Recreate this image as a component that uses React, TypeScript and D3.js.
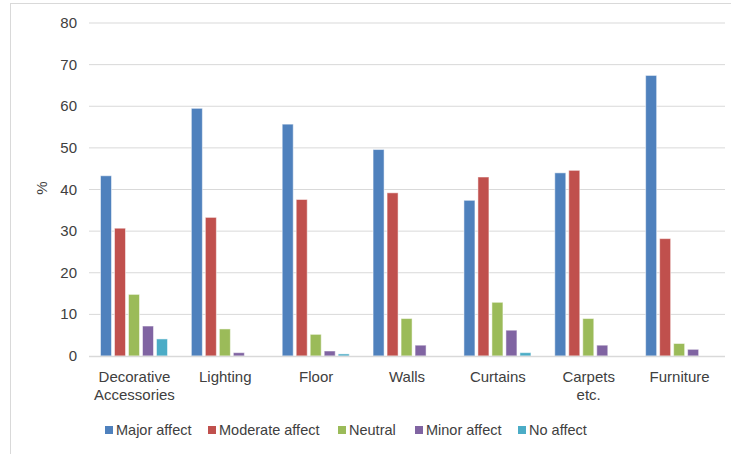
import React from "react";
import * as d3 from "d3";

const categories = [["Decorative", "Accessories"], ["Lighting"], ["Floor"], ["Walls"], ["Curtains"], ["Carpets", "etc."], ["Furniture"]];
const seriesNames = ["Major affect", "Moderate affect", "Neutral", "Minor affect", "No affect"];
const colors = ["#4F81BD", "#C0504D", "#9BBB59", "#8064A2", "#4BACC6"];
const major = [43.3, 59.5, 55.7, 49.6, 37.4, 44.0, 67.4];
const moderate = [30.7, 33.3, 37.6, 39.2, 43.0, 44.6, 28.2];
const neutral = [14.8, 6.5, 5.2, 9.0, 12.9, 9.0, 3.0];
const minor = [7.2, 0.8, 1.2, 2.6, 6.2, 2.6, 1.6];
const noAffect = [4.1, 0, 0.5, 0, 0.8, 0, 0];
const yTicks = [0, 10, 20, 30, 40, 50, 60, 70, 80];

const series = [major, moderate, neutral, minor, noAffect];

export default function App() {
  const W = 731, H = 454;
  const left = 89, right = 725, top = 23, bottom = 356;
  const x = d3.scaleBand<number>().domain(d3.range(categories.length)).range([left, right]).paddingInner(0).paddingOuter(0);
  const y = d3.scaleLinear().domain([0, 80]).range([bottom, top]);
  const bw = x.bandwidth();
  const step = 14;
  const barW = 11;
  const offset = 11.5;
  const font = "Liberation Sans, Arial, sans-serif";
  const legendX = [105, 208, 338, 415, 518];
  return (
    <svg width={W} height={H} style={{ position: "absolute", left: 0, top: 0 }} fontFamily={font}>
      <rect x={0} y={0} width={W} height={H} fill="#fff" />
      <rect x={10.5} y={3.5} width={730} height={460} fill="none" stroke="#D9D9D9" />
      {yTicks.map((t) => (
        <g key={t}>
          {t > 0 && <line x1={left} x2={right} y1={y(t)} y2={y(t)} stroke="#D9D9D9" strokeWidth={1} />}
          <text x={77} y={y(t) + 5} textAnchor="end" fontSize={15} fill="#404040">{t}</text>
        </g>
      ))}
      <text transform={`translate(47,188) rotate(-90)`} textAnchor="middle" fontSize={15} fill="#404040">%</text>
      {series.map((vals, si) =>
        vals.map((v, ci) => (
          v > 0 ? (
            <rect key={`${si}-${ci}`} x={(x(ci) as number) + offset + si * step} y={y(v)} width={barW} height={bottom - y(v)} fill={colors[si]} stroke="#fff" strokeOpacity={0.5} strokeWidth={1} />
          ) : null
        ))
      )}
      <line x1={left} x2={right} y1={bottom + 0.5} y2={bottom + 0.5} stroke="#D9D9D9" strokeWidth={1.5} />
      {categories.map((lines, ci) => (
        <text key={ci} x={(x(ci) as number) + bw / 2} y={382} textAnchor="middle" fontSize={15} fill="#404040">
          {lines.map((l, li) => (
            <tspan key={li} x={(x(ci) as number) + bw / 2} dy={li === 0 ? 0 : 18}>{l}</tspan>
          ))}
        </text>
      ))}
      {seriesNames.map((n, i) => (
        <g key={n}>
          <rect x={legendX[i]} y={426} width={8} height={8} fill={colors[i]} />
          <text x={legendX[i] + 11} y={435} fontSize={14.5} fill="#404040">{n}</text>
        </g>
      ))}
    </svg>
  );
}
